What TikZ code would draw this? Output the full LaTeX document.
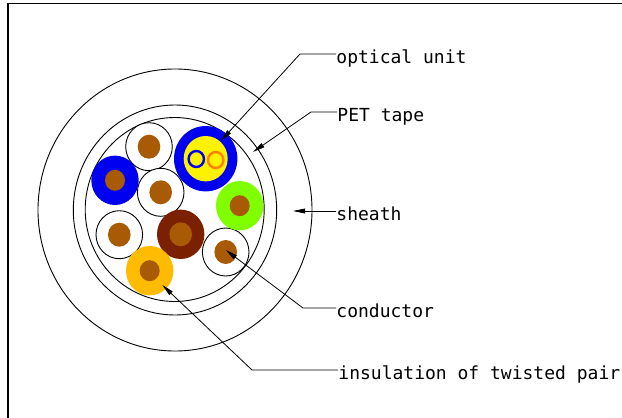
\documentclass[tikz,border=0pt]{standalone}
\usepackage{fontspec}
\usepackage{xcolor}
\usepackage{tikz}
\usetikzlibrary{arrows.meta,shapes.geometric}
\setmonofont{DejaVu Sans Mono}
\definecolor{corebrown}{HTML}{A85A05}
\definecolor{darkbrown}{HTML}{7B2000}
\definecolor{wireblue}{HTML}{0000F0}
\definecolor{wiregreen}{HTML}{80FF00}
\definecolor{wireorange}{HTML}{FFBB00}
\definecolor{ringorange}{HTML}{FF8000}

\begin{document}
\begin{tikzpicture}[x=1pt,y=-1pt,line width=0.9pt,
    base/.style={ellipse,inner sep=0pt,draw=none},
    ring/.style={base,draw,fill=white},
    wire/.style={base,minimum width=47.4pt,minimum height=49.4pt},
    white wire/.style={base,draw,fill=white,minimum width=46.6pt,minimum height=48pt},
    core/.style={base,fill=corebrown,minimum width=22.6pt,minimum height=24pt},
    small core/.style={base,fill=corebrown,minimum width=20pt,minimum height=21pt},
    fibre/.style={base,draw,fill=yellow,line width=2.4pt,minimum width=15.4pt,minimum height=16pt},
    label/.style={anchor=west,inner sep=0pt,text height=19pt,text depth=0pt,font=\ttfamily\fontsize{18}{18}\selectfont},
    leader/.style={-{Triangle[length=12pt,width=4.8pt]},line width=0.8pt}]

    \useasboundingbox (0,0) rectangle (622,418);

    % frame
    \coordinate (fa) at (8.2,418);
    \coordinate (fb) at (8.2,3.4);
    \coordinate (fc) at (622,3.4);
    \draw[line width=1.7pt] (fa) -- (fb) -- (fc);

    % cable rings
    \node[ring,minimum width=274pt,minimum height=282pt] (sheathring) at (175,210) {};
    \node[ring,minimum width=203.4pt,minimum height=210pt] (tapering) at (175,210) {};
    \node[ring,minimum width=179pt,minimum height=184pt] (innerring) at (174.7,209.5) {};

    % twisted pairs
    \node[white wire] (w1) at (149,146.7) {};
    \node[core] (c1) at (149,146.7) {};
    \node[white wire] (w2) at (160.7,192.3) {};
    \node[core] (c2) at (160.7,192.3) {};
    \node[white wire] (w3) at (119.3,234.7) {};
    \node[core] (c3) at (119.3,234.7) {};
    \node[white wire] (w4) at (225.7,252) {};
    \node[core] (c4) at (225.7,252) {};

    \node[wire,fill=wireblue] (w5) at (115,180.3) {};
    \node[small core] (c5) at (115,180.3) {};
    \node[wire,fill=wiregreen] (w6) at (239.7,205.7) {};
    \node[small core] (c6) at (239.7,205.7) {};
    \node[wire,fill=darkbrown] (w7) at (180.7,234.3) {};
    \node[core] (c7) at (180.7,234.3) {};
    \node[wire,fill=wireorange] (w8) at (149.7,270.7) {};
    \node[small core] (c8) at (149.7,270.7) {};

    % optical unit
    \node[base,fill=wireblue,minimum width=63.4pt,minimum height=65.4pt] (ou) at (205.7,158.7) {};
    \node[base,fill=yellow,minimum width=44pt,minimum height=45.4pt] (oucore) at (205.7,158.7) {};
    \node[fibre,draw=wireblue] (f1) at (196.3,159) {};
    \node[fibre,draw=ringorange] (f2) at (215.7,160) {};

    % labels
    \node[label] (optical) at (336,54) {optical unit};
    \node[label] (pet) at (337,112) {PET tape};
    \node[label] (sheath) at (336,211) {sheath};
    \node[label] (conductor) at (336,308) {conductor};
    \node[label] (insulation) at (338,370) {insulation of twisted pair};

    \coordinate (e1) at (300,54);
    \coordinate (t1) at (221,140.7);
    \coordinate (e2) at (311,112);
    \coordinate (t2) at (253,152);
    \coordinate (t3) at (293,211);
    \coordinate (e4) at (303,308);
    \coordinate (t4) at (225.7,250);
    \coordinate (e5) at (252,370);
    \coordinate (t5) at (162.3,285);

    \draw[leader] (optical.west) -- (e1) -- (t1);
    \draw[leader] (pet.west) -- (e2) -- (t2);
    \draw[leader] (sheath.west) -- (t3);
    \draw[leader] (conductor.west) -- (e4) -- (t4);
    \draw[leader] (insulation.west) -- (e5) -- (t5);
\end{tikzpicture}
\end{document}
